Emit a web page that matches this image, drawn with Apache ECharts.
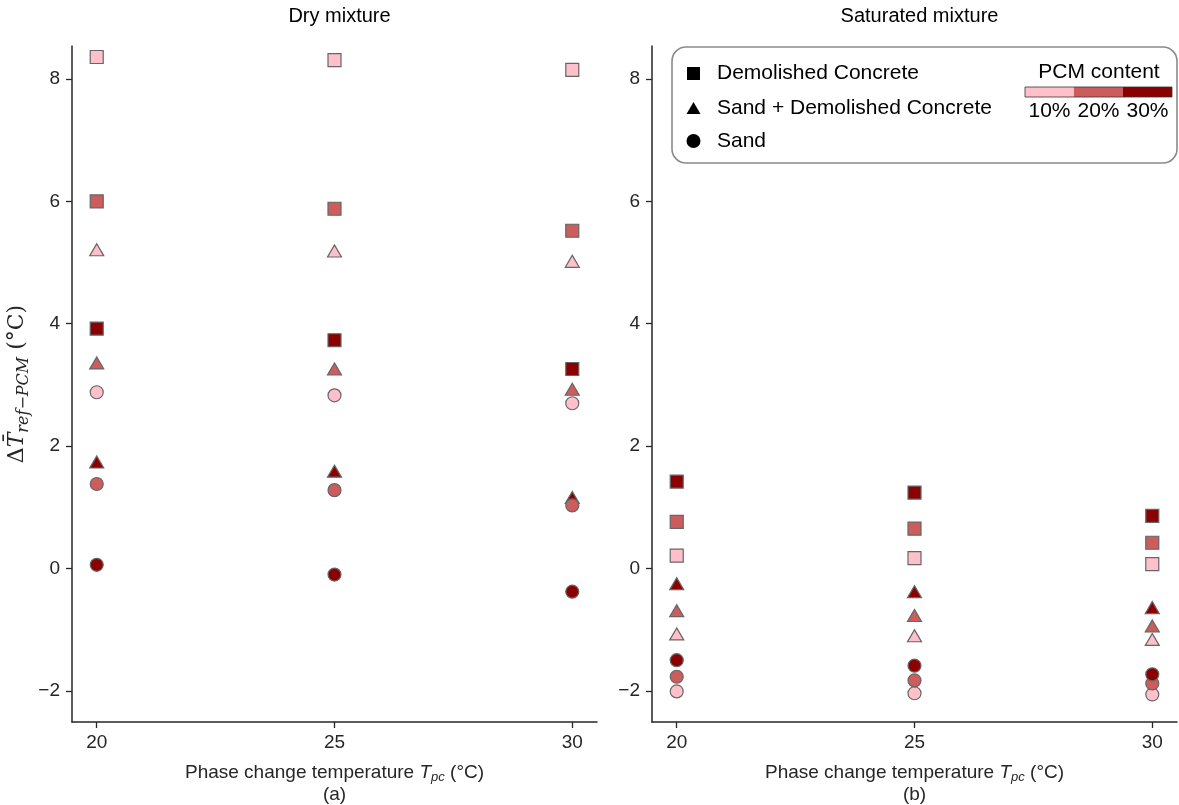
<!DOCTYPE html>
<html>
<head>
<meta charset="utf-8">
<script src="https://cdn.jsdelivr.net/npm/echarts@6/dist/echarts.min.js"></script>
<style>
html,body{margin:0;padding:0;background:#fff;}
#chart{width:1179px;height:805px;}
</style>
</head>
<body>
<div id="chart"></div>
<script>
// ---- data ----
const tpc = [20, 25, 30];
const xTicks = [20, 25, 30];
const yTicks = [-2, 0, 2, 4, 6, 8];
const pcmLevels = ['10%', '20%', '30%'];
const panelTitles = ['Dry mixture', 'Saturated mixture'];
const panelTags = ['(a)', '(b)'];
const materials = ['Demolished Concrete', 'Sand + Demolished Concrete', 'Sand'];
// rows: 10%, 20%, 30% PCM ; columns: Tpc 20, 25, 30
const dryConcrete = [[8.36, 8.31, 8.15], [6.00, 5.88, 5.52], [3.92, 3.73, 3.26]];
const dryMixed    = [[5.21, 5.19, 5.02], [3.36, 3.26, 2.93], [1.74, 1.59, 1.16]];
const drySand     = [[2.88, 2.83, 2.70], [1.38, 1.28, 1.03], [0.06, -0.10, -0.38]];
const satConcrete = [[0.21, 0.17, 0.07], [0.76, 0.65, 0.42], [1.42, 1.24, 0.86]];
const satMixed    = [[-1.07, -1.10, -1.16], [-0.69, -0.77, -0.94], [-0.25, -0.38, -0.64]];
const satSand     = [[-2.01, -2.04, -2.06], [-1.77, -1.83, -1.88], [-1.50, -1.59, -1.73]];

// ---- styles ----
const pcmColors = ['#FFC0CB', '#CD5C5C', '#8B0000'];
const edge = '#666666';
const ink = '#262626';
const font = '"Liberation Sans", Arial, sans-serif';
const mathFont = '"DejaVu Serif", "Liberation Serif", serif';

const grids = [
  {left: 72, top: 46, width: 525, height: 676, outerBoundsMode: 'none', containLabel: false},
  {left: 652, top: 46, width: 525, height: 676, outerBoundsMode: 'none', containLabel: false}
];

function fmtY(v){ return v < 0 ? '\u2212' + Math.abs(v) : String(v); }

const xAxes = [0, 1].map(g => ({
  type: 'value', gridIndex: g, min: 19.48, max: 30.52,
  axisLine: {show: true, onZero: false, lineStyle: {color: ink, width: 1.5}},
  axisTick: {show: true, length: 6, lineStyle: {color: ink, width: 1.3}, customValues: xTicks},
  axisLabel: {customValues: xTicks, color: ink, fontSize: 19, fontFamily: font, margin: 11},
  splitLine: {show: false},
  name: 'Phase change temperature {i|T}{s|pc} (°C)\n{n|' + panelTags[g] + '}',
  nameLocation: 'middle', nameGap: 40,
  nameTextStyle: {
    color: ink, fontSize: 19, fontFamily: font, lineHeight: 22, align: 'center',
    rich: {
      i: {fontStyle: 'italic', fontSize: 19, fontFamily: font, color: ink, lineHeight: 22, verticalAlign: 'middle'},
      s: {fontStyle: 'italic', fontSize: 13, fontFamily: font, color: ink, lineHeight: 13, verticalAlign: 'bottom'},
      n: {fontSize: 19, fontFamily: font, color: ink, lineHeight: 22, align: 'center'}
    }
  }
}));

const yAxes = [0, 1].map(g => ({
  type: 'value', gridIndex: g, min: -2.51, max: 8.54,
  axisLine: {show: true, onZero: false, lineStyle: {color: ink, width: 1.5}},
  axisTick: {show: true, length: 6, lineStyle: {color: ink, width: 1.3}, customValues: yTicks},
  axisLabel: {customValues: yTicks, color: ink, fontSize: 19, fontFamily: font, margin: 12, formatter: fmtY},
  splitLine: {show: false},
  name: g === 0 ? '{d|Δ}{t|T\u0304}{s|ref\u2212PCM}{n| (°C)}' : '',
  nameLocation: 'middle', nameRotate: 90, nameGap: 40,
  nameTextStyle: {
    color: ink,
    rich: {
      d: {fontFamily: mathFont, fontSize: 22, color: ink, lineHeight: 30, verticalAlign: 'middle'},
      t: {fontFamily: mathFont, fontStyle: 'italic', fontSize: 22, color: ink, lineHeight: 30, verticalAlign: 'middle'},
      s: {fontFamily: mathFont, fontStyle: 'italic', fontSize: 16, color: ink, lineHeight: 16, verticalAlign: 'bottom'},
      n: {fontFamily: mathFont, fontSize: 22, color: ink, lineHeight: 30, verticalAlign: 'middle'}
    }
  }
}));

const symbols = [
  {symbol: 'rect', size: 13},
  {symbol: 'triangle', size: [14, 12]},
  {symbol: 'circle', size: 13}
];

const panelData = [
  [dryConcrete, dryMixed, drySand],
  [satConcrete, satMixed, satSand]
];

const series = [];
panelData.forEach((mats, g) => {
  mats.forEach((rows, m) => {
    rows.forEach((vals, p) => {
      series.push({
        type: 'scatter',
        name: materials[m] + ' ' + pcmLevels[p],
        xAxisIndex: g, yAxisIndex: g,
        symbol: symbols[m].symbol,
        symbolSize: symbols[m].size,
        itemStyle: {color: pcmColors[p], borderColor: edge, borderWidth: 1.2, opacity: 1},
        emphasis: {disabled: true},
        data: tpc.map((x, i) => [x, vals[i]])
      });
    });
  });
});

// ---- custom legend (graphic) ----
const lgX = 672, lgY = 47;
const legendEls = [
  {type: 'rect', shape: {x: lgX, y: lgY, width: 505, height: 116, r: 14},
   style: {fill: '#fff', stroke: '#8a8a8a', lineWidth: 1.6}, z: 10},
  {type: 'rect', shape: {x: 687, y: 67, width: 13, height: 13}, style: {fill: '#000'}, z: 11},
  {type: 'polygon', shape: {points: [[693.5, 102], [686.5, 114], [700.5, 114]]}, style: {fill: '#000'}, z: 11},
  {type: 'circle', shape: {cx: 693.5, cy: 141, r: 7}, style: {fill: '#000'}, z: 11}
];
const rowsY = [73, 108, 141];
materials.forEach((t, i) => {
  legendEls.push({type: 'text', x: 717, y: rowsY[i], z: 11,
    style: {text: t, fill: '#000', font: '21px ' + font, textVerticalAlign: 'middle', textAlign: 'left'}});
});
legendEls.push({type: 'text', x: 1099, y: 72, z: 11,
  style: {text: 'PCM content', fill: '#000', font: '21px ' + font, textVerticalAlign: 'middle', textAlign: 'center'}});
const barX = 1025, barW = 147, segW = barW / 3;
pcmLevels.forEach((lab, i) => {
  legendEls.push({type: 'rect', shape: {x: barX + i * segW, y: 87, width: segW, height: 10}, z: 11,
    style: {fill: pcmColors[i]}});
  legendEls.push({type: 'text', x: barX + i * segW + segW / 2, y: 111, z: 11,
    style: {text: lab, fill: '#000', font: '21px ' + font, textVerticalAlign: 'middle', textAlign: 'center'}});
});
legendEls.push({type: 'rect', shape: {x: barX, y: 87, width: barW, height: 10}, z: 12,
  style: {fill: 'none', stroke: '#333', lineWidth: 0.8}});

const option = {
  animation: false,
  backgroundColor: '#fff',
  title: panelTitles.map((t, i) => ({
    text: t, left: grids[i].left + grids[i].width / 2, top: 1, textAlign: 'center',
    textStyle: {fontFamily: font, fontSize: 20, fontWeight: 'normal', color: '#000'}
  })),
  grid: grids,
  xAxis: xAxes,
  yAxis: yAxes,
  series: series,
  graphic: legendEls
};

const chart = echarts.init(document.getElementById('chart'), null, {renderer: 'canvas'});
chart.setOption(option);
</script>
</body>
</html>
